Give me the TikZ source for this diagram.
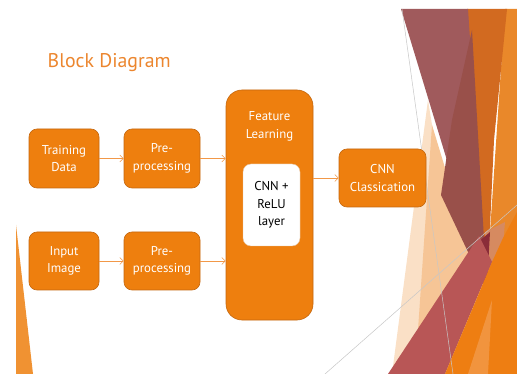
\documentclass[tikz,border=0pt]{standalone}
\usepackage{fontspec}
\setmainfont{PT Sans}
\usetikzlibrary{arrows.meta}

\definecolor{boxorange}{RGB}{238,127,14}
\definecolor{boxedge}{RGB}{196,104,16}
\definecolor{titleorange}{RGB}{236,134,46}
\definecolor{arroworange}{RGB}{242,152,72}
\definecolor{mauve}{RGB}{160,90,92}
\definecolor{mauvedark}{RGB}{153,80,74}
\definecolor{maroon}{RGB}{138,44,56}
\definecolor{darkorange}{RGB}{210,106,32}
\definecolor{lightorange}{RGB}{233,136,42}
\definecolor{brightorange}{RGB}{238,126,18}
\definecolor{paleorange}{RGB}{241,148,62}
\definecolor{brick}{RGB}{184,86,86}
\definecolor{tan}{RGB}{214,138,96}
\definecolor{peachlight}{RGB}{250,224,198}
\definecolor{peachmid}{RGB}{246,197,150}
\definecolor{sliver}{RGB}{240,146,50}

\tikzset{
  block/.style={draw=boxedge, line width=0.6pt, fill=boxorange, rounded corners=8pt,
    text=white, align=center, font=\fontsize{12.8}{17.5}\selectfont, inner sep=0pt},
  inner block/.style={draw=boxedge!40, line width=0.4pt, fill=white, rounded corners=8pt,
    text=black, align=center, font=\fontsize{12.8}{17.5}\selectfont, inner sep=0pt},
  flow/.style={draw=arroworange, line width=0.6pt,
    -{Straight Barb[length=3.5pt,width=7pt,line width=0.6pt]}},
  facet line/.style={draw=black!22, line width=0.5pt}
}

\begin{document}
\begin{tikzpicture}[x=1pt,y=-1pt]
\useasboundingbox (0,0) rectangle (517,374);
\fill[white] (0,0) rectangle (517,374);

% faceted decoration on the right edge
\begin{scope}
  \clip (16,9) rectangle (517,374);
  \fill[peachlight] (428,100) -- (472,374) -- (392,374) -- cycle;
  \fill[peachmid] (432,125) -- (470,250) -- (455,300) -- (418,330) -- cycle;
  \fill[lightorange] (505,9) -- (517,9) -- (517,374) -- (488,262) -- cycle;
  \fill[darkorange] (467,9) -- (507,9) -- (494,140) -- (487,292) -- cycle;
  \fill[mauve] (401,9) -- (468,9) -- (487,292) -- cycle;
  \fill[mauvedark] (472,30) -- (487,292) -- (441,195) -- (452,120) -- cycle;
  \fill[tan] (485,232) -- (505,222) -- (498,305) -- (487,292) -- cycle;
  \fill[maroon] (469,250) -- (490,232) -- (487,286) -- cycle;
  \fill[brick] (388,374) -- (479,236) -- (492,262) -- (445,374) -- cycle;
  \fill[brightorange] (445,374) -- (492,262) -- (503,238) -- (517,212) -- (517,374) -- cycle;
  \fill[paleorange] (468,374) -- (492,300) -- (488,374) -- cycle;
\end{scope}
\fill[sliver] (16,225) -- (33,374) -- (16,374) -- cycle;
\draw[facet line] (402,9) -- (453,374);
\draw[facet line] (325,374) -- (517,205);

% title
\node[anchor=base west, inner sep=0pt, text=titleorange,
      font=\fontsize{19.8}{24}\selectfont] (title) at (47.5,68) {Block Diagram};

% blocks
\node[block, minimum width=70pt, minimum height=59pt] (train) at (64,158.5) {Training\\Data};
\node[block, minimum width=76pt, minimum height=59pt] (pre1) at (162,158.5) {Pre-\\processing};
\node[block, minimum width=70pt, minimum height=58pt] (input) at (64,261) {Input\\Image};
\node[block, minimum width=76pt, minimum height=58pt] (pre2) at (162,261) {Pre-\\processing};
\node[block, rounded corners=16pt, minimum width=87pt, minimum height=230pt] (feat) at (269.5,205) {};
\node[text=white, align=center, inner sep=0pt,
      font=\fontsize{12.8}{17.5}\selectfont] (featlabel) at (269.5,126.5) {Feature\\Learning};
\node[inner block, minimum width=57pt, minimum height=82pt] (relu) at (271.5,205) {CNN +\\ReLU\\layer};
\node[block, minimum width=87pt, minimum height=58pt] (cls) at (382.5,178) {CNN\\Classication};

% connectors
\draw[flow] (train.east) -- (pre1.west);
\draw[flow] (input.east) -- (pre2.west);
\draw[flow] (pre1.east) -- (pre1.east -| feat.west);
\draw[flow] (pre2.east) -- (pre2.east -| feat.west);
\draw[flow] (feat.east |- cls.west) -- (cls.west);
\end{tikzpicture}
\end{document}
